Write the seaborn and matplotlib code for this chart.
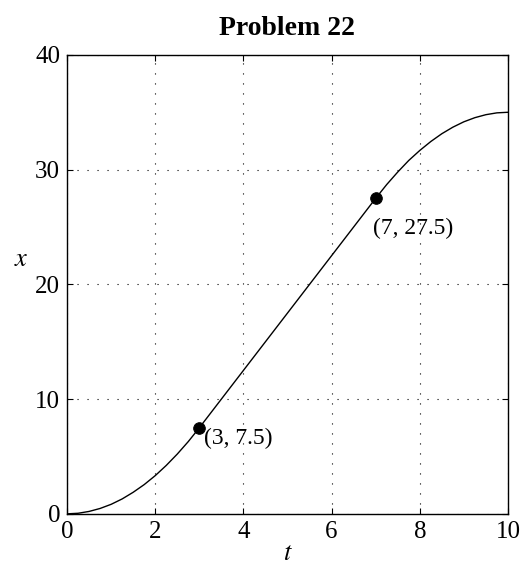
import numpy as np
import pandas as pd
import seaborn as sns
import matplotlib.pyplot as plt

# position x(t)
t_vals = [0, 0.25, 0.5, 0.75, 1, 1.25, 1.5, 1.75, 2, 2.25, 2.5, 2.75, 3,
          3.5, 4, 4.5, 5, 5.5, 6, 6.5, 7,
          7.25, 7.5, 7.75, 8, 8.25, 8.5, 8.75, 9, 9.25, 9.5, 9.75, 10]
x_vals = [0, 0.05, 0.21, 0.47, 0.83, 1.3, 1.88, 2.55, 3.33, 4.22, 5.21, 6.3, 7.5,
          10, 12.5, 15, 17.5, 20, 22.5, 25, 27.5,
          28.7, 29.79, 30.8, 31.67, 32.45, 33.13, 33.7, 34.17, 34.53, 34.79, 34.95, 35]
marked_t = [3, 7]
marked_x = [7.5, 27.5]
marked_labels = ["(3, 7.5)", "(7, 27.5)"]

sns.set_style("white")
plt.rcParams['font.family'] = ['Liberation Serif', 'DejaVu Serif']
plt.rcParams['mathtext.fontset'] = 'stix'
plt.rcParams['text.color'] = 'black'
plt.rcParams['axes.labelcolor'] = 'black'
plt.rcParams['xtick.color'] = 'black'
plt.rcParams['ytick.color'] = 'black'

fig = plt.figure(figsize=(5.28, 5.78), dpi=100)
ax = fig.add_axes([0.127, 0.111, 0.835, 0.794])

df = pd.DataFrame({"t": t_vals, "x": x_vals})
sns.lineplot(data=df, x="t", y="x", ax=ax, color="black", linewidth=1.0)
sns.scatterplot(x=marked_t, y=marked_x, ax=ax, color="black", s=70,
                edgecolor="black", zorder=5)

offsets = [(0.11, -0.95), (-0.06, -2.65)]
for tt, xx, lab, (dx, dy) in zip(marked_t, marked_x, marked_labels, offsets):
    ax.text(tt + dx, xx + dy, lab, fontsize=17, ha="left", va="center")

ax.set_xlim(0, 10)
ax.set_ylim(0, 40)
ax.set_xticks(np.arange(0, 11, 2))
ax.set_yticks(np.arange(0, 41, 10))
ax.grid(True, color="black", linestyle=(0, (1, 8)), linewidth=0.8)
for sp in ax.spines.values():
    sp.set_visible(True)
    sp.set_color("black")
    sp.set_linewidth(1.0)
ax.tick_params(direction="in", length=4, width=0.8, labelsize=18,
               top=True, right=True, bottom=True, left=True, pad=5)

ax.set_xlabel("$t$", fontsize=19, labelpad=0)
ax.set_ylabel("$x$", fontsize=19, rotation=0, labelpad=10)
ax.yaxis.set_label_coords(-0.105, 0.53)
ax.set_title("Problem 22", fontsize=20, fontweight="bold", pad=14)

fig.savefig("out.png", dpi=100)
